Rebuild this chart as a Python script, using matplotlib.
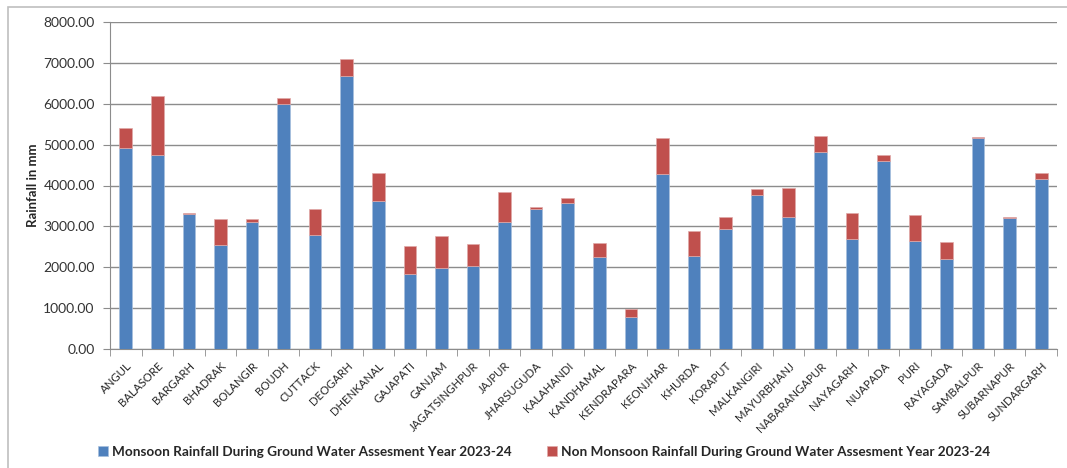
import matplotlib.pyplot as plt
from matplotlib.patches import Rectangle
import numpy as np

plt.rcParams['font.family'] = ['Lato', 'DejaVu Sans']

districts = ["ANGUL", "BALASORE", "BARGARH", "BHADRAK", "BOLANGIR", "BOUDH", "CUTTACK",
             "DEOGARH", "DHENKANAL", "GAJAPATI", "GANJAM", "JAGATSINGHPUR", "JAJPUR",
             "JHARSUGUDA", "KALAHANDI", "KANDHAMAL", "KENDRAPARA", "KEONJHAR", "KHURDA",
             "KORAPUT", "MALKANGIRI", "MAYURBHANJ", "NABARANGAPUR", "NAYAGARH", "NUAPADA",
             "PURI", "RAYAGADA", "SAMBALPUR", "SUBARNAPUR", "SUNDARGARH"]

monsoon = [4920, 4745, 3310, 2545, 3100, 6000, 2785, 6690, 3630, 1830, 1985, 2040, 3115,
           3430, 3560, 2245, 775, 4270, 2285, 2940, 3770, 3240, 4810, 2680, 4610,
           2645, 2205, 5150, 3200, 4155]

total = [5410, 6190, 3335, 3190, 3180, 6150, 3435, 7100, 4300, 2530, 2765, 2580, 3850,
         3480, 3700, 2605, 970, 5150, 2895, 3240, 3925, 3950, 5200, 3320, 4750,
         3290, 2620, 5190, 3230, 4300]

non_monsoon = [t - m for t, m in zip(total, monsoon)]

blue = '#4F81BD'
red = '#C0504D'
grid_c = '#8C8C8C'
text_c = '#262626'

fig = plt.figure(figsize=(10.67, 4.68), dpi=100)
ax = fig.add_axes([110 / 1067, 1 - 349 / 468, 947 / 1067, 327 / 468])

x = np.arange(len(districts))
ax.bar(x, monsoon, width=0.4, color=blue, edgecolor='#A7C0DE', linewidth=0.5,
       label='Monsoon Rainfall During Ground Water Assesment Year 2023-24', zorder=3)
ax.bar(x, non_monsoon, bottom=monsoon, width=0.4, color=red, edgecolor='#E0A9A8',
       linewidth=0.5, label='Non Monsoon Rainfall During Ground Water Assesment Year 2023-24',
       zorder=3)

ax.set_xlim(-0.5, len(districts) - 0.5)
ax.set_ylim(0, 8000)
ax.set_yticks(np.arange(0, 8001, 1000))
ax.set_yticklabels(['%.2f' % v for v in np.arange(0, 8001, 1000)], fontsize=10, color='#333333')
ax.yaxis.grid(True, color=grid_c, linewidth=1, zorder=0)

ax.set_xticks(x)
ax.set_xticklabels(districts, rotation=45, ha='right', rotation_mode='anchor',
                   fontsize=8.2, color=text_c)
ax.set_xticks(np.arange(-0.5, len(districts)), minor=True)
ax.tick_params(axis='x', which='major', length=0, pad=8)
ax.tick_params(axis='x', which='minor', length=5, color=grid_c, direction='out')
ax.tick_params(axis='y', length=5, color=grid_c, pad=6)

for s in ['top', 'right']:
    ax.spines[s].set_visible(False)
for s in ['left', 'bottom']:
    ax.spines[s].set_color(grid_c)

ax.set_ylabel('Rainfall in mm', fontsize=9.5, fontweight='bold', color=text_c, labelpad=3)

leg = fig.legend(loc='center', bbox_to_anchor=(0.51, 1 - 452 / 468), ncol=2, frameon=False,
                 fontsize=9.8, handlelength=0.7, handleheight=0.7, handletextpad=0.3,
                 columnspacing=2.6)
for t in leg.get_texts():
    t.set_fontweight('bold')
    t.set_color(text_c)

fig.patches.append(Rectangle((8 / 1067, -0.1), 1.2, 1 - 7 / 468 + 0.1, transform=fig.transFigure,
                             fill=False, edgecolor='#BFBFBF', linewidth=1.2))

fig.savefig('out.png', dpi=100)
